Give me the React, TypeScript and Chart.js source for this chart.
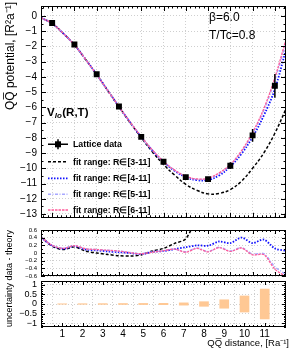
import React, { useEffect, useRef } from 'react';
import { Chart, registerables } from 'chart.js';
Chart.register(...registerables);

const FONT = "'Liberation Sans', Arial, Helvetica, sans-serif";

// ---- data ----
const R_DATA = [1, 2, 3, 4, 5, 6, 7, 8, 9, 10, 11];
const V_DATA = [-0.47, -1.88, -3.83, -5.95, -7.94, -9.57, -10.58, -10.71, -9.83, -7.84, -4.59];
const V_UNC = [0.01, 0.015, 0.02, 0.025, 0.03, 0.035, 0.06, 0.12, 0.22, 0.42, 0.78];

const R_CURVE = [0.5, 1, 1.5, 2, 2.5, 3, 3.5, 4, 4.5, 5, 5.5, 6, 6.5, 7, 7.5, 8, 8.5, 9, 9.5, 10, 10.5, 11, 11.5];
const FIT_3_11 = [-0.12, -0.5, -1.15, -1.9, -2.85, -3.85, -4.9, -5.97, -7.0, -7.98, -8.92, -9.75, -10.45, -11.05, -11.45, -11.68, -11.65, -11.4, -10.85, -10.0, -9.0, -7.7, -6.1];
const FIT_4_11 = [-0.12, -0.5, -1.15, -1.9, -2.85, -3.85, -4.9, -5.96, -6.98, -7.95, -8.83, -9.58, -10.17, -10.58, -10.78, -10.76, -10.47, -9.88, -9.05, -7.95, -6.55, -4.8, -2.2];
const FIT_5_11 = [-0.12, -0.5, -1.15, -1.9, -2.85, -3.85, -4.9, -5.95, -6.97, -7.93, -8.81, -9.56, -10.13, -10.53, -10.72, -10.68, -10.35, -9.77, -8.9, -7.72, -6.2, -4.2, -1.75];
const FIT_6_11 = [-0.12, -0.5, -1.15, -1.9, -2.85, -3.85, -4.9, -5.95, -6.97, -7.92, -8.8, -9.55, -10.12, -10.52, -10.7, -10.65, -10.3, -9.75, -8.85, -7.65, -6.1, -4.05, -1.55];

const R_RES_3_11 = [0.5, 1, 1.5, 2, 2.5, 3, 3.5, 4, 4.5, 5, 5.5, 6, 6.5, 7, 7.5, 8];
const RES_3_11 = [0.42, 0.18, 0.09, 0.16, 0.05, 0.0, -0.04, -0.07, -0.08, -0.05, 0.05, 0.12, 0.25, 0.37, 0.95, 1.6];
const RES_4_11 = [0.41, 0.19, 0.11, 0.18, 0.09, 0.07, 0.04, 0.02, 0.0, -0.03, 0.03, 0.05, 0.1, 0.15, 0.2, 0.19, 0.3, 0.26, 0.4, 0.26, 0.35, 0.12, 0.06];
const RES_5_11 = [0.41, 0.2, 0.12, 0.19, 0.11, 0.09, 0.07, 0.05, 0.01, -0.02, 0.03, 0.06, 0.1, 0.03, 0.13, 0.04, 0.15, 0.05, 0.14, -0.03, -0.02, -0.36, -0.56];
const RES_6_11 = [0.41, 0.2, 0.12, 0.19, 0.11, 0.09, 0.07, 0.05, 0.01, -0.02, 0.02, 0.06, 0.1, 0.02, 0.12, 0.03, 0.14, 0.04, 0.13, -0.05, -0.04, -0.42, -0.62];

const X_TICKS = [1, 2, 3, 4, 5, 6, 7, 8, 9, 10, 11];
const Y_TICKS_TOP = [0, -1, -2, -3, -4, -5, -6, -7, -8, -9, -10, -11, -12, -13];
const Y_TICKS_MID = [0.6, 0.4, 0.2, 0, -0.2, -0.4, -0.6];
const Y_TICKS_BOT = [1, 0.5, 0, -0.5, -1];

const LEGEND_LABELS = ['Lattice data', 'fit range: R\u2208[3-11]', 'fit range: R\u2208[4-11]', 'fit range: R\u2208[5-11]', 'fit range: R\u2208[6-11]'];

// ---- styles ----
const BLACK = '#000000';
const BLUE = '#1010ff';
const VIOLET = '#a8a8ff';
const PINK = '#ff5c9a';
const BAR = 'rgb(255,200,148)';
const GRID = '#cfcfcf';

const pts = (xs: number[], ys: number[]) => ys.map((y, i) => ({ x: xs[i], y }));
const fmt = (v: number) => {
  const r = Math.round(v * 10) / 10;
  if (r === 0) return '0';
  return (r < 0 ? '\u2212' : '') + String(Math.abs(r));
};

function subdivide(majors: number[], n: number, lo: number, hi: number) {
  const d = Math.abs(majors[1] - majors[0]) / n;
  const base = majors[0];
  const out: number[] = [];
  const k0 = Math.ceil((lo - base) / d - 1e-6);
  const k1 = Math.floor((hi - base) / d + 1e-6);
  for (let k = k0; k <= k1; k++) {
    if (((k % n) + n) % n !== 0) out.push(base + k * d);
  }
  return out;
}

function framePlugin(yMajor: number[], ySub: number, maj: number, min: number) {
  return {
    id: 'frameTicks',
    afterDatasetsDraw(chart: any) {
      const { ctx, chartArea: a } = chart;
      const xs = chart.scales.x;
      const ys = chart.scales.y;
      ctx.save();
      ctx.strokeStyle = '#000';
      ctx.lineWidth = 1;
      ctx.setLineDash([]);
      ctx.beginPath();
      const xMinor = subdivide(X_TICKS, 5, xs.min, xs.max);
      const yMinor = ySub > 1 ? subdivide(yMajor, ySub, ys.min, ys.max) : [];
      const vx = (v: number, len: number) => {
        const p = Math.round(xs.getPixelForValue(v)) + 0.5;
        ctx.moveTo(p, a.top); ctx.lineTo(p, a.top + len);
        ctx.moveTo(p, a.bottom); ctx.lineTo(p, a.bottom - len);
      };
      const vy = (v: number, len: number) => {
        const p = Math.round(ys.getPixelForValue(v)) + 0.5;
        ctx.moveTo(a.left, p); ctx.lineTo(a.left + len, p);
        ctx.moveTo(a.right, p); ctx.lineTo(a.right - len, p);
      };
      X_TICKS.forEach((v) => vx(v, maj));
      xMinor.forEach((v) => vx(v, min));
      yMajor.forEach((v) => vy(v, maj));
      yMinor.forEach((v) => vy(v, min));
      ctx.stroke();
      ctx.strokeRect(Math.round(a.left) + 0.5, Math.round(a.top) + 0.5, Math.round(a.width) - 1, Math.round(a.height) - 1);
      ctx.restore();
    },
  };
}

const errorBarPlugin = {
  id: 'errBars',
  afterDatasetsDraw(chart: any) {
    const meta = chart.getDatasetMeta(0);
    const ys = chart.scales.y;
    const ctx = chart.ctx;
    ctx.save();
    ctx.strokeStyle = BLACK;
    ctx.lineWidth = 1.5;
    ctx.setLineDash([]);
    ctx.beginPath();
    meta.data.forEach((el: any, i: number) => {
      const t = ys.getPixelForValue(V_DATA[i] + V_UNC[i]);
      const b = ys.getPixelForValue(V_DATA[i] - V_UNC[i]);
      ctx.moveTo(el.x, t); ctx.lineTo(el.x, b);
    });
    ctx.stroke();
    ctx.restore();
  },
};

const legendPlugin = {
  id: 'potLegend',
  afterDraw(chart: any) {
    const ctx = chart.ctx;
    const rows = [144.3, 161.7, 178.3, 194.3, 210];
    const x0 = 48, x1 = 68, tx = 73;
    ctx.save();
    rows.forEach((y, i) => {
      const ds: any = chart.data.datasets[i];
      ctx.save();
      if (i === 0) {
        ctx.strokeStyle = BLACK; ctx.lineWidth = 1.5; ctx.setLineDash([]);
        ctx.beginPath();
        ctx.moveTo(x0, y); ctx.lineTo(x1, y);
        ctx.moveTo(58, y - 5); ctx.lineTo(58, y + 5);
        ctx.stroke();
        ctx.fillStyle = BLACK;
        ctx.fillRect(55, y - 3, 6, 6);
      } else {
        ctx.strokeStyle = ds.borderColor; ctx.lineWidth = ds.borderWidth;
        ctx.setLineDash(ds.borderDash || []);
        ctx.beginPath(); ctx.moveTo(x0, y); ctx.lineTo(x1, y); ctx.stroke();
      }
      ctx.restore();
      ctx.fillStyle = '#000';
      ctx.font = `bold 8.8px ${FONT}`;
      ctx.textBaseline = 'middle';
      ctx.textAlign = 'left';
      ctx.fillText(LEGEND_LABELS[i], tx, y + 0.5);
    });
    // annotations
    ctx.font = `12px ${FONT}`;
    ctx.textBaseline = 'alphabetic';
    ctx.fillText('\u03b2=6.0', 209, 20.5);
    ctx.fillText('T/Tc=0.8', 209, 38.6);
    let x = 47;
    ctx.font = `bold 11.5px ${FONT}`;
    ctx.fillText('V', x, 115.5);
    x += ctx.measureText('V').width;
    ctx.font = `italic bold 8px ${FONT}`;
    ctx.fillText('lo', x, 118);
    x += ctx.measureText('lo').width + 0.5;
    ctx.font = `bold 11.5px ${FONT}`;
    ctx.fillText('(R,T)', x, 115.5);
    ctx.restore();
  },
};

const xTitlePlugin = {
  id: 'xTitle',
  afterDraw(chart: any) {
    const ctx = chart.ctx;
    ctx.save();
    ctx.fillStyle = '#000';
    ctx.font = `9.5px ${FONT}`;
    ctx.textAlign = 'right';
    ctx.textBaseline = 'alphabetic';
    const top = 278;
    ctx.fillText('QQ\u0305 distance, [Ra\u207b\u00b9]', 289, 345.5 - top);
    ctx.restore();
  },
};

function yScale(min: number, max: number, ticks: number[], size: number) {
  return {
    type: 'linear',
    min,
    max,
    afterBuildTicks: (s: any) => { s.ticks = ticks.map((v) => ({ value: v })); },
    afterFit: (s: any) => { s.width = 41; s.paddingTop = 0; s.paddingBottom = 0; },
    ticks: { autoSkip: false, padding: 4, color: '#000', font: { family: FONT, size }, callback: (v: any) => fmt(Number(v)) },
    grid: { color: GRID, lineWidth: 1, drawTicks: false, tickLength: 0 },
    border: { display: false, dash: [1, 2] },
  };
}

function xScale(showLabels: boolean, height: number) {
  return {
    type: 'linear',
    min: 0.5,
    max: 11.5,
    afterBuildTicks: (s: any) => { s.ticks = X_TICKS.map((v) => ({ value: v })); },
    afterFit: (s: any) => { s.height = height; s.paddingLeft = 0; s.paddingRight = 0; },
    ticks: { display: showLabels, autoSkip: false, maxRotation: 0, padding: 1, color: '#000', font: { family: FONT, size: 10 }, callback: (v: any) => fmt(Number(v)) },
    grid: { color: GRID, lineWidth: 1, drawTicks: false, tickLength: 0 },
    border: { display: false, dash: [1, 2] },
  };
}

const line = (label: string, xs: number[], ys: number[], color: string, dash: number[], width: number, order: number, tension = 0.4) => ({
  type: 'line',
  label,
  data: pts(xs, ys),
  borderColor: color,
  backgroundColor: color,
  borderDash: dash,
  borderWidth: width,
  pointRadius: 0,
  fill: false,
  tension,
  order,
});

const DASH_BLACK = [3, 2];
const DASH_BLUE = [1.5, 1.5];
const DASH_VIOLET = [3, 1.5, 1, 1.5];
const DASH_PINK = [2.5, 1];

const baseOpts = {
  animation: false,
  responsive: false,
  maintainAspectRatio: false,
  events: [],
  plugins: { legend: { display: false }, tooltip: { enabled: false }, title: { display: false } },
};

export default function App() {
  const topRef = useRef<HTMLCanvasElement>(null);
  const midRef = useRef<HTMLCanvasElement>(null);
  const botRef = useRef<HTMLCanvasElement>(null);

  useEffect(() => {
    const top = new Chart(topRef.current as HTMLCanvasElement, {
      type: 'line',
      data: {
        datasets: [
          {
            label: LEGEND_LABELS[0],
            data: pts(R_DATA, V_DATA),
            showLine: false,
            pointStyle: 'rect',
            pointRadius: 4.2,
            pointBorderWidth: 0,
            backgroundColor: BLACK,
            borderColor: BLACK,
            order: 0,
          } as any,
          line(LEGEND_LABELS[1], R_CURVE, FIT_3_11, BLACK, DASH_BLACK, 1.5, 4),
          line(LEGEND_LABELS[2], R_CURVE, FIT_4_11, BLUE, DASH_BLUE, 1.8, 3),
          line(LEGEND_LABELS[3], R_CURVE, FIT_5_11, VIOLET, DASH_VIOLET, 1.5, 2),
          line(LEGEND_LABELS[4], R_CURVE, FIT_6_11, PINK, DASH_PINK, 1.3, 1),
        ],
      },
      options: {
        ...baseOpts,
        layout: { padding: { top: 6, right: 6, bottom: 2, left: 0 } },
        scales: { x: xScale(false, 0), y: yScale(-13.25, 0.65, Y_TICKS_TOP, 10) },
      } as any,
      plugins: [framePlugin(Y_TICKS_TOP, 2, 5, 2.5), errorBarPlugin, legendPlugin],
    } as any);

    const mid = new Chart(midRef.current as HTMLCanvasElement, {
      type: 'line',
      data: {
        datasets: [
          line('3-11', R_RES_3_11, RES_3_11, BLACK, DASH_BLACK, 1.5, 4, 0.3),
          line('4-11', R_CURVE, RES_4_11, BLUE, DASH_BLUE, 1.8, 3, 0.3),
          line('5-11', R_CURVE, RES_5_11, VIOLET, DASH_VIOLET, 1.5, 2, 0.3),
          line('6-11', R_CURVE, RES_6_11, PINK, DASH_PINK, 1.3, 1, 0.3),
        ],
      },
      options: {
        ...baseOpts,
        layout: { padding: { top: 6, right: 6, bottom: 2, left: 0 } },
        scales: { x: xScale(false, 0), y: yScale(-0.6, 0.6, Y_TICKS_MID, 6) },
      } as any,
      plugins: [framePlugin(Y_TICKS_MID, 2, 4, 2)],
    } as any);

    const bot = new Chart(botRef.current as HTMLCanvasElement, {
      type: 'bar',
      data: {
        datasets: [
          {
            label: 'uncertainty',
            data: R_DATA.map((r, i) => ({ x: r, y: [-V_UNC[i], V_UNC[i]] })),
            backgroundColor: BAR,
            borderWidth: 0,
            barThickness: 9,
          } as any,
        ],
      },
      options: {
        ...baseOpts,
        layout: { padding: { top: 3, right: 6, bottom: 0, left: 0 } },
        scales: { x: xScale(true, 21), y: yScale(-1.2, 1.2, Y_TICKS_BOT, 9) },
      } as any,
      plugins: [framePlugin(Y_TICKS_BOT, 5, 4, 2), xTitlePlugin],
    } as any);

    return () => { top.destroy(); mid.destroy(); bot.destroy(); };
  }, []);

  const rot = (cx: number, cy: number, w: number, h: number, size: number): React.CSSProperties => ({
    position: 'absolute',
    left: cx - w / 2,
    top: cy - h / 2,
    width: w,
    height: h,
    lineHeight: `${h}px`,
    fontSize: size,
    fontFamily: FONT,
    color: '#000',
    textAlign: 'right',
    whiteSpace: 'nowrap',
    transform: 'rotate(-90deg)',
    transformOrigin: '50% 50%',
  });

  return (
    <div style={{ position: 'absolute', left: 0, top: 0, width: 292, height: 348, background: '#fff', overflow: 'hidden' }}>
      <canvas ref={topRef} width={292} height={222} style={{ position: 'absolute', left: 0, top: 0, width: 292, height: 222 }} />
      <canvas ref={midRef} width={292} height={54} style={{ position: 'absolute', left: 0, top: 224, width: 292, height: 54 }} />
      <canvas ref={botRef} width={292} height={70} style={{ position: 'absolute', left: 0, top: 278, width: 292, height: 70 }} />
      <div style={rot(10, 62, 120, 14, 12)}>QQ{'\u0305'} potential, [R{'\u00b2'}a{'\u207b\u00b9'}]</div>
      <div style={rot(9, 290, 120, 12, 9)}>uncertainty data - theory</div>
    </div>
  );
}
